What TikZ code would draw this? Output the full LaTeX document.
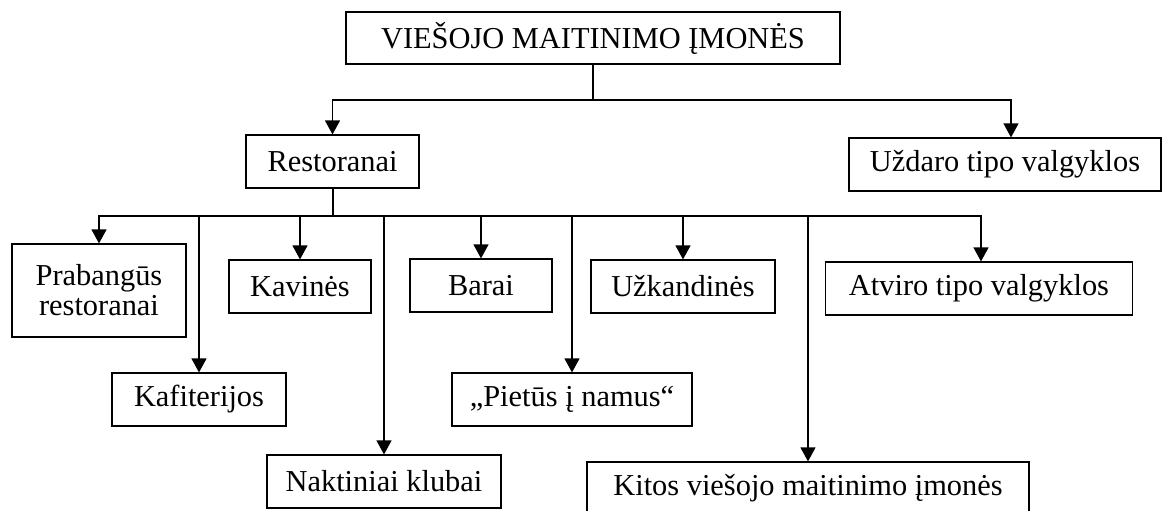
\documentclass[tikz,border=0pt]{standalone}
\usepackage{fontspec}
\setmainfont{Liberation Serif}
\usetikzlibrary{arrows.meta}

\begin{document}
\begin{tikzpicture}[x=0.5pt, y=-0.5pt,
    box/.style={draw=black, line width=0.6pt, inner sep=0pt, align=center,
      font=\fontsize{15.2}{15}\selectfont},
    arr/.style={-{Triangle[length=7pt,width=7.5pt]}, line width=0.6pt}]
    \useasboundingbox (0,0) rectangle (1163,510);
    \clip (0,0) rectangle (1163,510);

    \node[box, minimum width=247pt, minimum height=26pt] (top) at (593,38) {VIEŠOJO MAITINIMO ĮMONĖS};
    \node[box, minimum width=86.5pt, minimum height=26.5pt] (rest) at (332.5,161.5) {Restoranai};
    \node[box, minimum width=156pt, minimum height=26.5pt] (uzd) at (1005,164.5) {Uždaro tipo valgyklos};

    \node[box, minimum width=87pt, minimum height=46.5pt] (prab) at (99,290.5) {Prabangūs\\restoranai};
    \node[box, minimum width=87pt, minimum height=26.5pt] (kafi) at (199,399.5) {Kafiterijos};
    \node[box, minimum width=71pt, minimum height=26.5pt] (kav) at (300,286.5) {Kavinės};
    \node[box, minimum width=117pt, minimum height=26.5pt] (nakt) at (384,481.5) {Naktiniai klubai};
    \node[box, minimum width=71pt, minimum height=26.5pt] (bar) at (481,285.5) {Barai};
    \node[box, minimum width=120pt, minimum height=26.5pt] (piet) at (572,399.5) {„Pietūs į namus“};
    \node[box, minimum width=92pt, minimum height=26.5pt] (uzk) at (683,286.5) {Užkandinės};
    \node[box, minimum width=221pt, minimum height=26pt] (kit) at (808,488) {Kitos viešojo maitinimo įmonės};
    \node[box, minimum width=153.5pt, minimum height=26.5pt] (atv) at (979,288.5) {Atviro tipo valgyklos};

    \coordinate (j1) at (593,100);
    \coordinate (j2) at (332.5,216);

    \draw[line width=0.6pt] (top.south) -- (j1);
    \draw[arr] (j1) -| (rest.north);
    \draw[arr] (j1) -| ([xshift=3pt]uzd.north);

    \draw[line width=1pt] (rest.south) -- (j2);
    \draw[line width=1.1pt] (kafi.north |- j2) -- (kit.north |- j2);
    \draw[arr] (j2) -| (prab.north);
    \draw[arr] (j2) -| (kafi.north);
    \draw[arr] (j2) -| (kav.north);
    \draw[arr] (j2) -| (nakt.north);
    \draw[arr] (j2) -| (bar.north);
    \draw[arr] (j2) -| (piet.north);
    \draw[arr] (j2) -| (uzk.north);
    \draw[arr] (j2) -| (kit.north);
    \draw[arr] (j2) -| ([xshift=1pt]atv.north);
\end{tikzpicture}
\end{document}
